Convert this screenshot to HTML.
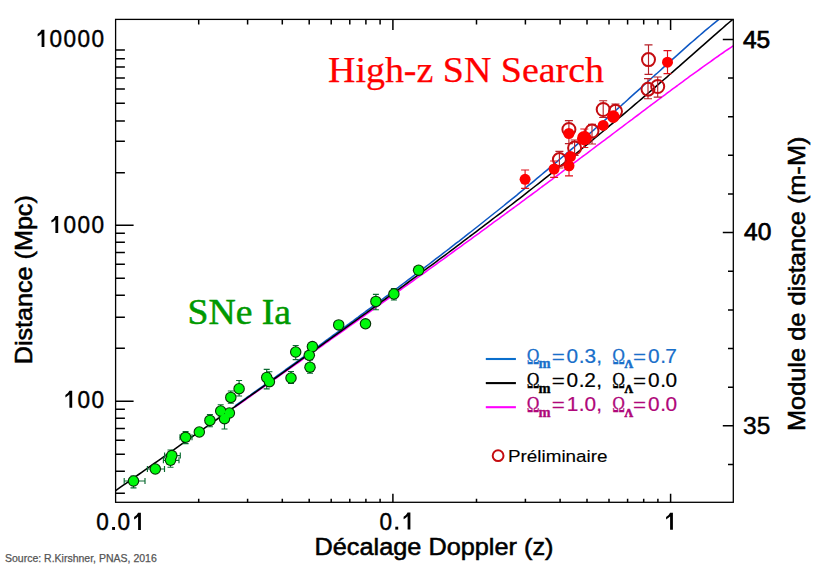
<!DOCTYPE html>
<html><head><meta charset="utf-8"><style>html,body{margin:0;padding:0;background:#fff;width:829px;height:568px;overflow:hidden}svg{display:block}</style></head>
<body><svg width="829" height="568" viewBox="0 0 829 568">
<rect width="829" height="568" fill="#fff"/>
<defs><clipPath id="c"><rect x="115.6" y="19.4" width="617.6999999999999" height="482.90000000000003"/></clipPath></defs><path d="M115.6 493.2h9.3M115.6 471.2h9.3M115.6 454.2h9.3M115.6 440.2h9.3M115.6 428.5h9.3M115.6 418.3h9.3M115.6 409.3h9.3M115.6 401.2h18M115.6 348.2h9.3M115.6 317.2h9.3M115.6 295.2h9.3M115.6 278.2h9.3M115.6 264.2h9.3M115.6 252.5h9.3M115.6 242.3h9.3M115.6 233.3h9.3M115.6 225.2h18M115.6 172.7h9.3M115.6 141.2h9.3M115.6 120.9h9.3M115.6 103.2h9.3M115.6 89.0h9.3M115.6 78.0h9.3M115.6 67.0h9.3M115.6 58.8h9.3M115.6 50.0h9.3M198.7 502.3v-3.6M198.7 19.4v5.2M247.6 502.3v-3.6M247.6 19.4v5.2M282.3 502.3v-3.6M282.3 19.4v5.2M309.2 502.3v-3.6M309.2 19.4v5.2M331.2 502.3v-3.6M331.2 19.4v5.2M349.8 502.3v-3.6M349.8 19.4v5.2M365.9 502.3v-3.6M365.9 19.4v5.2M380.1 502.3v-3.6M380.1 19.4v5.2M392.9 502.3v-8.5M392.9 19.4v10.5M476.5 502.3v-3.6M476.5 19.4v5.2M525.4 502.3v-3.6M525.4 19.4v5.2M560.1 502.3v-3.6M560.1 19.4v5.2M587.0 502.3v-3.6M587.0 19.4v5.2M609.0 502.3v-3.6M609.0 19.4v5.2M627.6 502.3v-3.6M627.6 19.4v5.2M643.7 502.3v-3.6M643.7 19.4v5.2M657.9 502.3v-3.6M657.9 19.4v5.2M670.6 502.3v-8.5M670.6 19.4v10.5M733.3 464.4h-5.3M733.3 425.8h-10.5M733.3 387.2h-5.3M733.3 348.5h-5.3M733.3 309.9h-5.3M733.3 271.2h-5.3M733.3 232.6h-10.5M733.3 194.0h-5.3M733.3 155.3h-5.3M733.3 116.7h-5.3M733.3 78.0h-5.3M733.3 39.4h-10.5" stroke="#000" stroke-width="1.5" fill="none"/><g clip-path="url(#c)" fill="none" stroke-width="1.55" stroke-linejoin="round"><polyline points="235.0,407.1 237.5,405.3 240.0,403.5 242.5,401.8 245.1,400.0 247.6,398.2 250.1,396.5 252.6,394.7 255.1,392.9 257.6,391.2 260.1,389.4 262.7,387.6 265.2,385.8 267.7,384.1 270.2,382.3 272.7,380.5 275.2,378.8 277.7,377.0 280.3,375.2 282.8,373.4 285.3,371.7 287.8,369.9 290.3,368.1 292.8,366.3 295.3,364.6 297.9,362.8 300.4,361.0 302.9,359.2 305.4,357.5 307.9,355.7 310.4,353.9 312.9,352.1 315.5,350.4 318.0,348.6 320.5,346.8 323.0,345.0 325.5,343.2 328.0,341.5 330.5,339.7 333.0,337.9 335.6,336.1 338.1,334.3 340.6,332.5 343.1,330.8 345.6,329.0 348.1,327.2 350.6,325.4 353.2,323.6 355.7,321.8 358.2,320.0 360.7,318.3 363.2,316.5 365.7,314.7 368.2,312.9 370.8,311.1 373.3,309.3 375.8,307.5 378.3,305.7 380.8,303.9 383.3,302.1 385.8,300.3 388.4,298.5 390.9,296.7 393.4,294.9 395.9,293.1 398.4,291.3 400.9,289.5 403.4,287.7 406.0,285.9 408.5,284.1 411.0,282.3 413.5,280.5 416.0,278.7 418.5,276.9 421.0,275.1 423.6,273.3 426.1,271.5 428.6,269.7 431.1,267.9 433.6,266.1 436.1,264.3 438.6,262.4 441.2,260.6 443.7,258.8 446.2,257.0 448.7,255.2 451.2,253.3 453.7,251.5 456.2,249.7 458.8,247.9 461.3,246.1 463.8,244.2 466.3,242.4 468.8,240.6 471.3,238.8 473.8,236.9 476.4,235.1 478.9,233.3 481.4,231.4 483.9,229.6 486.4,227.8 488.9,225.9 491.4,224.1 493.9,222.2 496.5,220.4 499.0,218.6 501.5,216.7 504.0,214.9 506.5,213.0 509.0,211.2 511.5,209.3 514.1,207.5 516.6,205.6 519.1,203.8 521.6,201.9 524.1,200.1 526.6,198.2 529.1,196.4 531.7,194.5 534.2,192.6 536.7,190.8 539.2,188.9 541.7,187.0 544.2,185.2 546.7,183.3 549.3,181.4 551.8,179.6 554.3,177.7 556.8,175.8 559.3,174.0 561.8,172.1 564.3,170.2 566.9,168.3 569.4,166.4 571.9,164.6 574.4,162.7 576.9,160.8 579.4,158.9 581.9,157.0 584.5,155.2 587.0,153.3 589.5,151.4 592.0,149.5 594.5,147.6 597.0,145.7 599.5,143.8 602.1,141.9 604.6,140.1 607.1,138.2 609.6,136.3 612.1,134.4 614.6,132.5 617.1,130.6 619.7,128.7 622.2,126.8 624.7,124.9 627.2,123.0 629.7,121.1 632.2,119.3 634.7,117.4 637.3,115.5 639.8,113.6 642.3,111.7 644.8,109.8 647.3,107.9 649.8,106.0 652.3,104.2 654.8,102.3 657.4,100.4 659.9,98.5 662.4,96.7 664.9,94.8 667.4,92.9 669.9,91.1 672.4,89.2 675.0,87.3 677.5,85.5 680.0,83.6 682.5,81.8 685.0,79.9 687.5,78.1 690.0,76.2 692.6,74.4 695.1,72.6 697.6,70.8 700.1,69.0 702.6,67.2 705.1,65.4 707.6,63.6 710.2,61.8 712.7,60.0 715.2,58.2 717.7,56.5 720.2,54.7 722.7,53.0 725.2,51.2 727.8,49.5 730.3,47.8 732.8,46.1 735.3,44.4" stroke="#ff00ff"/><polyline points="235.0,406.0 237.5,404.2 240.0,402.4 242.5,400.6 245.1,398.8 247.6,397.0 250.1,395.3 252.6,393.5 255.1,391.7 257.6,389.9 260.1,388.1 262.7,386.3 265.2,384.5 267.7,382.7 270.2,380.9 272.7,379.1 275.2,377.3 277.7,375.5 280.3,373.7 282.8,371.9 285.3,370.0 287.8,368.2 290.3,366.4 292.8,364.6 295.3,362.8 297.9,361.0 300.4,359.2 302.9,357.4 305.4,355.6 307.9,353.7 310.4,351.9 312.9,350.1 315.5,348.3 318.0,346.5 320.5,344.6 323.0,342.8 325.5,341.0 328.0,339.2 330.5,337.3 333.0,335.5 335.6,333.7 338.1,331.8 340.6,330.0 343.1,328.2 345.6,326.3 348.1,324.5 350.6,322.6 353.2,320.8 355.7,318.9 358.2,317.1 360.7,315.2 363.2,313.4 365.7,311.5 368.2,309.7 370.8,307.8 373.3,306.0 375.8,304.1 378.3,302.2 380.8,300.4 383.3,298.5 385.8,296.6 388.4,294.8 390.9,292.9 393.4,291.0 395.9,289.1 398.4,287.3 400.9,285.4 403.4,283.5 406.0,281.6 408.5,279.7 411.0,277.8 413.5,275.9 416.0,274.0 418.5,272.1 421.0,270.2 423.6,268.3 426.1,266.4 428.6,264.5 431.1,262.6 433.6,260.6 436.1,258.7 438.6,256.8 441.2,254.9 443.7,252.9 446.2,251.0 448.7,249.1 451.2,247.1 453.7,245.2 456.2,243.2 458.8,241.3 461.3,239.3 463.8,237.4 466.3,235.4 468.8,233.4 471.3,231.5 473.8,229.5 476.4,227.5 478.9,225.5 481.4,223.5 483.9,221.5 486.4,219.5 488.9,217.5 491.4,215.5 493.9,213.5 496.5,211.5 499.0,209.5 501.5,207.5 504.0,205.5 506.5,203.4 509.0,201.4 511.5,199.4 514.1,197.3 516.6,195.3 519.1,193.2 521.6,191.1 524.1,189.1 526.6,187.0 529.1,184.9 531.7,182.9 534.2,180.8 536.7,178.7 539.2,176.6 541.7,174.5 544.2,172.4 546.7,170.3 549.3,168.2 551.8,166.1 554.3,163.9 556.8,161.8 559.3,159.7 561.8,157.5 564.3,155.4 566.9,153.2 569.4,151.1 571.9,148.9 574.4,146.8 576.9,144.6 579.4,142.4 581.9,140.2 584.5,138.1 587.0,135.9 589.5,133.7 592.0,131.5 594.5,129.3 597.0,127.0 599.5,124.8 602.1,122.6 604.6,120.4 607.1,118.2 609.6,115.9 612.1,113.7 614.6,111.5 617.1,109.2 619.7,107.0 622.2,104.7 624.7,102.5 627.2,100.2 629.7,97.9 632.2,95.7 634.7,93.4 637.3,91.1 639.8,88.9 642.3,86.6 644.8,84.3 647.3,82.0 649.8,79.8 652.3,77.5 654.8,75.2 657.4,73.0 659.9,70.7 662.4,68.4 664.9,66.1 667.4,63.9 669.9,61.6 672.4,59.4 675.0,57.1 677.5,54.9 680.0,52.6 682.5,50.4 685.0,48.1 687.5,45.9 690.0,43.7 692.6,41.5 695.1,39.3 697.6,37.1 700.1,35.0 702.6,32.8 705.1,30.7 707.6,28.6 710.2,26.5 712.7,24.4 715.2,22.3 717.7,20.3 720.2,18.3 722.7,16.3 725.2,14.3 727.8,12.4 730.3,10.5 732.8,8.6 735.3,6.8" stroke="#0e58c4"/><polyline points="113.6,492.0 116.7,489.8 119.8,487.6 123.0,485.4 126.1,483.3 129.2,481.1 132.3,478.9 135.5,476.7 138.6,474.5 141.7,472.3 144.8,470.1 148.0,467.9 151.1,465.7 154.2,463.5 157.3,461.3 160.5,459.1 163.6,456.9 166.7,454.7 169.8,452.5 173.0,450.3 176.1,448.1 179.2,445.9 182.3,443.7 185.5,441.5 188.6,439.3 191.7,437.1 194.8,434.9 198.0,432.7 201.1,430.5 204.2,428.3 207.3,426.1 210.4,423.9 213.6,421.7 216.7,419.5 219.8,417.3 222.9,415.1 226.1,412.9 229.2,410.7 232.3,408.5 235.4,406.3 238.6,404.1 241.7,401.9 244.8,399.7 247.9,397.4 251.1,395.2 254.2,393.0 257.3,390.8 260.4,388.6 263.6,386.4 266.7,384.2 269.8,381.9 272.9,379.7 276.1,377.5 279.2,375.3 282.3,373.1 285.4,370.8 288.6,368.6 291.7,366.4 294.8,364.2 297.9,361.9 301.0,359.7 304.2,357.5 307.3,355.2 310.4,353.0 313.5,350.8 316.7,348.5 319.8,346.3 322.9,344.1 326.0,341.8 329.2,339.6 332.3,337.4 335.4,335.1 338.5,332.9 341.7,330.6 344.8,328.4 347.9,326.1 351.0,323.9 354.2,321.6 357.3,319.4 360.4,317.1 363.5,314.8 366.7,312.6 369.8,310.3 372.9,308.1 376.0,305.8 379.2,303.5 382.3,301.2 385.4,299.0 388.5,296.7 391.6,294.4 394.8,292.1 397.9,289.9 401.0,287.6 404.1,285.3 407.3,283.0 410.4,280.7 413.5,278.4 416.6,276.1 419.8,273.8 422.9,271.5 426.0,269.2 429.1,266.9 432.3,264.6 435.4,262.3 438.5,259.9 441.6,257.6 444.8,255.3 447.9,253.0 451.0,250.6 454.1,248.3 457.3,245.9 460.4,243.6 463.5,241.2 466.6,238.9 469.7,236.5 472.9,234.2 476.0,231.8 479.1,229.4 482.2,227.1 485.4,224.7 488.5,222.3 491.6,219.9 494.7,217.5 497.9,215.1 501.0,212.8 504.1,210.3 507.2,207.9 510.4,205.5 513.5,203.1 516.6,200.7 519.7,198.3 522.9,195.8 526.0,193.4 529.1,190.9 532.2,188.5 535.4,186.0 538.5,183.6 541.6,181.1 544.7,178.6 547.9,176.1 551.0,173.7 554.1,171.2 557.2,168.7 560.3,166.2 563.5,163.7 566.6,161.1 569.7,158.6 572.8,156.1 576.0,153.6 579.1,151.0 582.2,148.5 585.3,145.9 588.5,143.4 591.6,140.8 594.7,138.2 597.8,135.6 601.0,133.0 604.1,130.5 607.2,127.9 610.3,125.2 613.5,122.6 616.6,120.0 619.7,117.4 622.8,114.8 626.0,112.1 629.1,109.5 632.2,106.8 635.3,104.2 638.5,101.5 641.6,98.8 644.7,96.1 647.8,93.5 650.9,90.8 654.1,88.1 657.2,85.4 660.3,82.7 663.4,80.0 666.6,77.3 669.7,74.5 672.8,71.8 675.9,69.1 679.1,66.4 682.2,63.6 685.3,60.9 688.4,58.1 691.6,55.4 694.7,52.7 697.8,49.9 700.9,47.2 704.1,44.4 707.2,41.7 710.3,38.9 713.4,36.2 716.6,33.4 719.7,30.7 722.8,28.0 725.9,25.2 729.1,22.5 732.2,19.8 735.3,17.1" stroke="#000"/></g><path d="M124.2 481.0H145.0M124.2 478.0V484.0M145.0 478.0V484.0" stroke="#0a6b30" stroke-width="1.15" fill="none"/><path d="M133.5 476.0V487.8M130.5 476.0H136.5M130.5 487.8H136.5" stroke="#0a6b30" stroke-width="1.15" fill="none"/><path d="M147.4 469.0H164.5M147.4 466.0V472.0M164.5 466.0V472.0" stroke="#0a6b30" stroke-width="1.15" fill="none"/><path d="M164.6 455.6H180.3M164.6 452.6V458.6M180.3 452.6V458.6" stroke="#0a6b30" stroke-width="1.15" fill="none"/><path d="M163.4 460.3H179.0M163.4 457.3V463.3M179.0 457.3V463.3" stroke="#0a6b30" stroke-width="1.15" fill="none"/><path d="M170.5 450.0V467.2M167.5 450.0H173.5M167.5 467.2H173.5" stroke="#0a6b30" stroke-width="1.15" fill="none"/><path d="M180.0 437.3H192.0M180.0 434.3V440.3M192.0 434.3V440.3" stroke="#0a6b30" stroke-width="1.15" fill="none"/><path d="M185.6 431.5V443.6M182.6 431.5H188.6M182.6 443.6H188.6" stroke="#0a6b30" stroke-width="1.15" fill="none"/><path d="M209.9 414.6V426.7M206.9 414.6H212.9M206.9 426.7H212.9" stroke="#0a6b30" stroke-width="1.15" fill="none"/><path d="M220.7 404.7V417.0M217.7 404.7H223.7M217.7 417.0H223.7" stroke="#0a6b30" stroke-width="1.15" fill="none"/><path d="M225.0 413.0H232.6M225.0 410.0V416.0M232.6 410.0V416.0" stroke="#0a6b30" stroke-width="1.15" fill="none"/><path d="M224.5 410.0V429.0M221.5 410.0H227.5M221.5 429.0H227.5" stroke="#0a6b30" stroke-width="1.15" fill="none"/><path d="M230.8 391.0V403.2M227.8 391.0H233.8M227.8 403.2H233.8" stroke="#0a6b30" stroke-width="1.15" fill="none"/><path d="M239.1 380.5V396.0M236.1 380.5H242.1M236.1 396.0H242.1" stroke="#0a6b30" stroke-width="1.15" fill="none"/><path d="M266.7 369.4V388.8M263.7 369.4H269.7M263.7 388.8H269.7" stroke="#0a6b30" stroke-width="1.15" fill="none"/><path d="M269.4 371.7V386.0M266.4 371.7H272.4M266.4 386.0H272.4" stroke="#0a6b30" stroke-width="1.15" fill="none"/><path d="M291.0 371.5V383.5M288.0 371.5H294.0M288.0 383.5H294.0" stroke="#0a6b30" stroke-width="1.15" fill="none"/><path d="M295.7 345.5V359.6M292.7 345.5H298.7M292.7 359.6H298.7" stroke="#0a6b30" stroke-width="1.15" fill="none"/><path d="M310.0 360.0V373.2M307.0 360.0H313.0M307.0 373.2H313.0" stroke="#0a6b30" stroke-width="1.15" fill="none"/><path d="M375.9 294.3V309.7M372.9 294.3H378.9M372.9 309.7H378.9" stroke="#0a6b30" stroke-width="1.15" fill="none"/><path d="M393.9 288.5V300.0M390.9 288.5H396.9M390.9 300.0H396.9" stroke="#0a6b30" stroke-width="1.15" fill="none"/><circle cx="133.5" cy="481" r="5.75" fill="#053005"/><circle cx="155.3" cy="469" r="5.75" fill="#053005"/><circle cx="171.8" cy="455.6" r="5.75" fill="#053005"/><circle cx="170.5" cy="460.3" r="5.75" fill="#053005"/><circle cx="185.6" cy="437.3" r="5.75" fill="#053005"/><circle cx="199.3" cy="432" r="5.75" fill="#053005"/><circle cx="209.9" cy="420.4" r="5.75" fill="#053005"/><circle cx="220.7" cy="411" r="5.75" fill="#053005"/><circle cx="229.4" cy="413" r="5.75" fill="#053005"/><circle cx="224.5" cy="418.7" r="5.75" fill="#053005"/><circle cx="230.8" cy="397.4" r="5.75" fill="#053005"/><circle cx="239.1" cy="388.7" r="5.75" fill="#053005"/><circle cx="266.7" cy="377.5" r="5.75" fill="#053005"/><circle cx="269.4" cy="381.7" r="5.75" fill="#053005"/><circle cx="291" cy="378" r="5.75" fill="#053005"/><circle cx="295.7" cy="352" r="5.75" fill="#053005"/><circle cx="312.4" cy="346.6" r="5.75" fill="#053005"/><circle cx="309.3" cy="355.3" r="5.75" fill="#053005"/><circle cx="310" cy="367.2" r="5.75" fill="#053005"/><circle cx="338.7" cy="324.9" r="5.75" fill="#053005"/><circle cx="365.5" cy="323.8" r="5.75" fill="#053005"/><circle cx="375.9" cy="301.4" r="5.75" fill="#053005"/><circle cx="393.9" cy="294" r="5.75" fill="#053005"/><circle cx="418.6" cy="270.2" r="5.75" fill="#053005"/><circle cx="133.5" cy="481" r="4.65" fill="#00f80c"/><circle cx="155.3" cy="469" r="4.65" fill="#00f80c"/><circle cx="171.8" cy="455.6" r="4.65" fill="#00f80c"/><circle cx="170.5" cy="460.3" r="4.65" fill="#00f80c"/><circle cx="185.6" cy="437.3" r="4.65" fill="#00f80c"/><circle cx="199.3" cy="432" r="4.65" fill="#00f80c"/><circle cx="209.9" cy="420.4" r="4.65" fill="#00f80c"/><circle cx="220.7" cy="411" r="4.65" fill="#00f80c"/><circle cx="229.4" cy="413" r="4.65" fill="#00f80c"/><circle cx="224.5" cy="418.7" r="4.65" fill="#00f80c"/><circle cx="230.8" cy="397.4" r="4.65" fill="#00f80c"/><circle cx="239.1" cy="388.7" r="4.65" fill="#00f80c"/><circle cx="266.7" cy="377.5" r="4.65" fill="#00f80c"/><circle cx="269.4" cy="381.7" r="4.65" fill="#00f80c"/><circle cx="291" cy="378" r="4.65" fill="#00f80c"/><circle cx="295.7" cy="352" r="4.65" fill="#00f80c"/><circle cx="312.4" cy="346.6" r="4.65" fill="#00f80c"/><circle cx="309.3" cy="355.3" r="4.65" fill="#00f80c"/><circle cx="310" cy="367.2" r="4.65" fill="#00f80c"/><circle cx="338.7" cy="324.9" r="4.65" fill="#00f80c"/><circle cx="365.5" cy="323.8" r="4.65" fill="#00f80c"/><circle cx="375.9" cy="301.4" r="4.65" fill="#00f80c"/><circle cx="393.9" cy="294" r="4.65" fill="#00f80c"/><circle cx="418.6" cy="270.2" r="4.65" fill="#00f80c"/><path d="M559.4 151.3V168.0M555.4 151.3H563.4M555.4 168.0H563.4" stroke="#b82028" stroke-width="1.15" fill="none"/><path d="M574.6 140.0V155.5M570.6 140.0H578.6M570.6 155.5H578.6" stroke="#b82028" stroke-width="1.15" fill="none"/><path d="M568.9 120.6V143.6M564.9 120.6H572.9M564.9 143.6H572.9" stroke="#b82028" stroke-width="1.15" fill="none"/><path d="M592.0 124.3V144.0M588.0 124.3H596.0M588.0 144.0H596.0" stroke="#b82028" stroke-width="1.15" fill="none"/><path d="M603.2 100.7V117.5M599.2 100.7H607.2M599.2 117.5H607.2" stroke="#b82028" stroke-width="1.15" fill="none"/><path d="M615.5 104.0V118.0M611.5 104.0H619.5M611.5 118.0H619.5" stroke="#b82028" stroke-width="1.15" fill="none"/><path d="M648.5 44.8V74.4M644.5 44.8H652.5M644.5 74.4H652.5" stroke="#b82028" stroke-width="1.15" fill="none"/><path d="M648.0 78.6V98.7M644.0 78.6H652.0M644.0 98.7H652.0" stroke="#b82028" stroke-width="1.15" fill="none"/><path d="M657.7 77.0V97.1M653.7 77.0H661.7M653.7 97.1H661.7" stroke="#b82028" stroke-width="1.15" fill="none"/><circle cx="559.4" cy="159.6" r="6.5" fill="none" stroke="#c40c10" stroke-width="2"/><circle cx="574.6" cy="148" r="6.5" fill="none" stroke="#c40c10" stroke-width="2"/><circle cx="568.9" cy="129.5" r="6.5" fill="none" stroke="#c40c10" stroke-width="2"/><circle cx="592" cy="131" r="6.5" fill="none" stroke="#c40c10" stroke-width="2"/><circle cx="603.2" cy="109.5" r="6.5" fill="none" stroke="#c40c10" stroke-width="2"/><circle cx="615.5" cy="111.3" r="6.5" fill="none" stroke="#c40c10" stroke-width="2"/><circle cx="648.5" cy="59.6" r="6.5" fill="none" stroke="#c40c10" stroke-width="2"/><circle cx="648" cy="89.2" r="6.5" fill="none" stroke="#c40c10" stroke-width="2"/><circle cx="657.7" cy="86.5" r="6.5" fill="none" stroke="#c40c10" stroke-width="2"/><path d="M525.1 170.0V188.3M521.1 170.0H529.1M521.1 188.3H529.1" stroke="#e0101a" stroke-width="1.15" fill="none"/><path d="M554.1 161.0V177.3M550.1 161.0H558.1M550.1 177.3H558.1" stroke="#e0101a" stroke-width="1.15" fill="none"/><path d="M569.0 156.0V175.9M565.0 156.0H573.0M565.0 175.9H573.0" stroke="#e0101a" stroke-width="1.15" fill="none"/><path d="M584.3 129.0V147.5M580.3 129.0H588.3M580.3 147.5H588.3" stroke="#e0101a" stroke-width="1.15" fill="none"/><path d="M667.5 50.6V73.6M663.5 50.6H671.5M663.5 73.6H671.5" stroke="#e0101a" stroke-width="1.15" fill="none"/><circle cx="525.1" cy="179.3" r="5.5" fill="#ff0000"/><circle cx="554.1" cy="169" r="5.5" fill="#ff0000"/><circle cx="569" cy="165.8" r="5.5" fill="#ff0000"/><circle cx="570.5" cy="156.5" r="5.5" fill="#ff0000"/><circle cx="568.9" cy="133.5" r="5.5" fill="#ff0000"/><circle cx="584.3" cy="138.2" r="7.3" fill="#ff0000"/><circle cx="603.2" cy="125.4" r="5.5" fill="#ff0000"/><circle cx="613.3" cy="116.6" r="6.3" fill="#ff0000"/><circle cx="667.5" cy="62.2" r="5.5" fill="#ff0000"/><rect x="115.6" y="19.4" width="617.7" height="482.9" fill="none" stroke="#000" stroke-width="1.3"/><path d="M41.60 29.80H44.40V46.90H41.60V33.60Q39.80 35.40 37.60 36.50V34.10Q40.30 32.70 41.60 29.80Z" fill="#000"/><text transform="translate(49.45,46.90) scale(0.94,1)" font-family="Liberation Sans" font-size="24" stroke="#000" stroke-width="0.45">0</text><text transform="translate(63.45,46.90) scale(0.94,1)" font-family="Liberation Sans" font-size="24" stroke="#000" stroke-width="0.45">0</text><text transform="translate(77.45,46.90) scale(0.94,1)" font-family="Liberation Sans" font-size="24" stroke="#000" stroke-width="0.45">0</text><text transform="translate(91.45,46.90) scale(0.94,1)" font-family="Liberation Sans" font-size="24" stroke="#000" stroke-width="0.45">0</text><path d="M55.40 215.90H58.20V233.00H55.40V219.70Q53.60 221.50 51.40 222.60V220.20Q54.10 218.80 55.40 215.90Z" fill="#000"/><text transform="translate(63.45,233.00) scale(0.94,1)" font-family="Liberation Sans" font-size="24" stroke="#000" stroke-width="0.45">0</text><text transform="translate(77.45,233.00) scale(0.94,1)" font-family="Liberation Sans" font-size="24" stroke="#000" stroke-width="0.45">0</text><text transform="translate(91.45,233.00) scale(0.94,1)" font-family="Liberation Sans" font-size="24" stroke="#000" stroke-width="0.45">0</text><path d="M69.40 390.70H72.20V407.80H69.40V394.50Q67.60 396.30 65.40 397.40V395.00Q68.10 393.60 69.40 390.70Z" fill="#000"/><text transform="translate(77.45,407.80) scale(0.94,1)" font-family="Liberation Sans" font-size="24" stroke="#000" stroke-width="0.45">0</text><text transform="translate(91.45,407.80) scale(0.94,1)" font-family="Liberation Sans" font-size="24" stroke="#000" stroke-width="0.45">0</text><text transform="translate(96.15,529.90) scale(0.94,1)" font-family="Liberation Sans" font-size="24" stroke="#000" stroke-width="0.45">0</text><rect x="112.10" y="527.00" width="2.9" height="2.9" fill="#000"/><text transform="translate(117.45,529.90) scale(0.94,1)" font-family="Liberation Sans" font-size="24" stroke="#000" stroke-width="0.45">0</text><path d="M138.10 512.80H140.90V529.90H138.10V516.60Q136.30 518.40 134.10 519.50V517.10Q136.80 515.70 138.10 512.80Z" fill="#000"/><text transform="translate(379.55,529.60) scale(0.94,1)" font-family="Liberation Sans" font-size="24" stroke="#000" stroke-width="0.45">0</text><rect x="395.30" y="526.70" width="2.9" height="2.9" fill="#000"/><path d="M407.60 512.50H410.40V529.60H407.60V516.30Q405.80 518.10 403.60 519.20V516.80Q406.30 515.40 407.60 512.50Z" fill="#000"/><path d="M670.10 512.70H672.90V529.80H670.10V516.50Q668.30 518.30 666.10 519.40V517.00Q668.80 515.60 670.10 512.70Z" fill="#000"/><text x="742.9" y="47.9" font-family="Liberation Sans" font-size="24.5" font-weight="normal" fill="#000" text-anchor="start" stroke="#000" stroke-width="0.75">45</text><text x="744.1" y="239.7" font-family="Liberation Sans" font-size="24.5" font-weight="normal" fill="#000" text-anchor="start" stroke="#000" stroke-width="0.75">40</text><text x="743.1" y="433.7" font-family="Liberation Sans" font-size="24.5" font-weight="normal" fill="#000" text-anchor="start" stroke="#000" stroke-width="0.45">35</text><text x="434" y="555.1" font-family="Liberation Sans" font-size="24.5" font-weight="normal" fill="#000" text-anchor="middle" stroke="#000" stroke-width="0.55" textLength="239" lengthAdjust="spacingAndGlyphs">Décalage Doppler (z)</text><text transform="translate(32.4,279.7) rotate(-90)" font-family="Liberation Sans" font-size="24.5" stroke="#000" stroke-width="0.55" textLength="169" lengthAdjust="spacingAndGlyphs" text-anchor="middle">Distance (Mpc)</text><text transform="translate(805.4,283.8) rotate(-90)" font-family="Liberation Sans" font-size="24.5" stroke="#000" stroke-width="0.55" textLength="294.5" lengthAdjust="spacingAndGlyphs" text-anchor="middle">Module de distance (m-M)</text><text x="328" y="81.9" font-family="Liberation Serif" font-size="35" font-weight="normal" fill="#ff0000" text-anchor="start" stroke="#ff0000" stroke-width="0.25" textLength="276" lengthAdjust="spacingAndGlyphs">High-z SN Search</text><text x="187.5" y="324.3" font-family="Liberation Serif" font-size="36" font-weight="normal" fill="#009900" text-anchor="start" stroke="#009900" stroke-width="0.5" textLength="103.5" lengthAdjust="spacingAndGlyphs">SNe Ia</text><text x="5" y="562.1" font-family="Liberation Sans" font-size="10.5" font-weight="normal" fill="#555555" text-anchor="start" stroke="#555555" stroke-width="0.25">Source: R.Kirshner, PNAS, 2016</text><circle cx="498.1" cy="455.7" r="5.4" fill="none" stroke="#c40c10" stroke-width="2"/><text x="508" y="461.7" font-family="Liberation Sans" font-size="17" font-weight="normal" fill="#000" text-anchor="start" stroke="#000" stroke-width="0.15" textLength="99.5" lengthAdjust="spacingAndGlyphs">Préliminaire</text><path d="M485.8 359H515.9" stroke="#0a6ecc" stroke-width="2.1"/><text transform="translate(526.8,363.6) scale(0.8,1.05)" font-family="Liberation Serif" font-size="21.5" fill="#1a6fca" stroke="#1a6fca" stroke-width="0.35">Ω</text><text transform="translate(612.3,363.6) scale(0.8,1.05)" font-family="Liberation Serif" font-size="21.5" fill="#1a6fca" stroke="#1a6fca" stroke-width="0.35">Ω</text><text x="538.6" y="368.40000000000003" font-family="Liberation Serif" font-size="14.5" font-weight="bold" fill="#1a6fca" stroke="#1a6fca" stroke-width="0.3">m</text><text x="624.6" y="368.40000000000003" font-family="Liberation Serif" font-size="12" font-weight="bold" fill="#1a6fca" stroke="#1a6fca" stroke-width="0.6">Λ</text><text transform="translate(551.85,362.80) scale(1.15,0.9)" font-family="Liberation Sans" font-size="19.5" fill="#1a6fca" stroke="#1a6fca" stroke-width="0.2">=</text><text transform="translate(566.60,362.80) scale(1.07,0.99)" font-family="Liberation Sans" font-size="19.5" fill="#1a6fca" stroke="#1a6fca" stroke-width="0.2">0</text><text transform="translate(578.63,362.80) scale(1.07,0.99)" font-family="Liberation Sans" font-size="19.5" fill="#1a6fca" stroke="#1a6fca" stroke-width="0.2">.</text><text transform="translate(584.40,362.80) scale(1.07,0.99)" font-family="Liberation Sans" font-size="19.5" fill="#1a6fca" stroke="#1a6fca" stroke-width="0.2">3</text><text transform="translate(596.33,362.80) scale(1.07,0.99)" font-family="Liberation Sans" font-size="19.5" fill="#1a6fca" stroke="#1a6fca" stroke-width="0.2">,</text><text transform="translate(633.05,362.80) scale(1.15,0.9)" font-family="Liberation Sans" font-size="19.5" fill="#1a6fca" stroke="#1a6fca" stroke-width="0.2">=</text><text transform="translate(648.10,362.80) scale(1.07,0.99)" font-family="Liberation Sans" font-size="19.5" fill="#1a6fca" stroke="#1a6fca" stroke-width="0.2">0</text><text transform="translate(660.13,362.80) scale(1.07,0.99)" font-family="Liberation Sans" font-size="19.5" fill="#1a6fca" stroke="#1a6fca" stroke-width="0.2">.</text><text transform="translate(665.13,362.80) scale(1.07,0.99)" font-family="Liberation Sans" font-size="19.5" fill="#1a6fca" stroke="#1a6fca" stroke-width="0.2">7</text><path d="M485.8 383.1H515.9" stroke="#000" stroke-width="2.1"/><text transform="translate(526.8,387.8) scale(0.8,1.05)" font-family="Liberation Serif" font-size="21.5" fill="#000" stroke="#000" stroke-width="0.35">Ω</text><text transform="translate(612.3,387.8) scale(0.8,1.05)" font-family="Liberation Serif" font-size="21.5" fill="#000" stroke="#000" stroke-width="0.35">Ω</text><text x="538.6" y="392.6" font-family="Liberation Serif" font-size="14.5" font-weight="bold" fill="#000" stroke="#000" stroke-width="0.3">m</text><text x="624.6" y="392.6" font-family="Liberation Serif" font-size="12" font-weight="bold" fill="#000" stroke="#000" stroke-width="0.6">Λ</text><text transform="translate(551.85,387.00) scale(1.15,0.9)" font-family="Liberation Sans" font-size="19.5" fill="#000" stroke="#000" stroke-width="0.2">=</text><text transform="translate(566.60,387.00) scale(1.07,0.99)" font-family="Liberation Sans" font-size="19.5" fill="#000" stroke="#000" stroke-width="0.2">0</text><text transform="translate(578.63,387.00) scale(1.07,0.99)" font-family="Liberation Sans" font-size="19.5" fill="#000" stroke="#000" stroke-width="0.2">.</text><text transform="translate(584.13,387.00) scale(1.07,0.99)" font-family="Liberation Sans" font-size="19.5" fill="#000" stroke="#000" stroke-width="0.2">2</text><text transform="translate(596.33,387.00) scale(1.07,0.99)" font-family="Liberation Sans" font-size="19.5" fill="#000" stroke="#000" stroke-width="0.2">,</text><text transform="translate(633.05,387.00) scale(1.15,0.9)" font-family="Liberation Sans" font-size="19.5" fill="#000" stroke="#000" stroke-width="0.2">=</text><text transform="translate(648.10,387.00) scale(1.07,0.99)" font-family="Liberation Sans" font-size="19.5" fill="#000" stroke="#000" stroke-width="0.2">0</text><text transform="translate(660.13,387.00) scale(1.07,0.99)" font-family="Liberation Sans" font-size="19.5" fill="#000" stroke="#000" stroke-width="0.2">.</text><text transform="translate(665.40,387.00) scale(1.07,0.99)" font-family="Liberation Sans" font-size="19.5" fill="#000" stroke="#000" stroke-width="0.2">0</text><path d="M485.8 407.2H515.9" stroke="#ff00ff" stroke-width="2.1"/><text transform="translate(526.8,412.0) scale(0.8,1.05)" font-family="Liberation Serif" font-size="21.5" fill="#b0087a" stroke="#b0087a" stroke-width="0.35">Ω</text><text transform="translate(612.3,412.0) scale(0.8,1.05)" font-family="Liberation Serif" font-size="21.5" fill="#b0087a" stroke="#b0087a" stroke-width="0.35">Ω</text><text x="538.6" y="416.8" font-family="Liberation Serif" font-size="14.5" font-weight="bold" fill="#b0087a" stroke="#b0087a" stroke-width="0.3">m</text><text x="624.6" y="416.8" font-family="Liberation Serif" font-size="12" font-weight="bold" fill="#b0087a" stroke="#b0087a" stroke-width="0.6">Λ</text><text transform="translate(551.85,411.20) scale(1.15,0.9)" font-family="Liberation Sans" font-size="19.5" fill="#b0087a" stroke="#b0087a" stroke-width="0.2">=</text><text transform="translate(566.79,411.20) scale(1.07,0.99)" font-family="Liberation Sans" font-size="19.5" fill="#b0087a" stroke="#b0087a" stroke-width="0.2">1</text><text transform="translate(578.63,411.20) scale(1.07,0.99)" font-family="Liberation Sans" font-size="19.5" fill="#b0087a" stroke="#b0087a" stroke-width="0.2">.</text><text transform="translate(584.40,411.20) scale(1.07,0.99)" font-family="Liberation Sans" font-size="19.5" fill="#b0087a" stroke="#b0087a" stroke-width="0.2">0</text><text transform="translate(596.33,411.20) scale(1.07,0.99)" font-family="Liberation Sans" font-size="19.5" fill="#b0087a" stroke="#b0087a" stroke-width="0.2">,</text><text transform="translate(633.05,411.20) scale(1.15,0.9)" font-family="Liberation Sans" font-size="19.5" fill="#b0087a" stroke="#b0087a" stroke-width="0.2">=</text><text transform="translate(648.10,411.20) scale(1.07,0.99)" font-family="Liberation Sans" font-size="19.5" fill="#b0087a" stroke="#b0087a" stroke-width="0.2">0</text><text transform="translate(660.13,411.20) scale(1.07,0.99)" font-family="Liberation Sans" font-size="19.5" fill="#b0087a" stroke="#b0087a" stroke-width="0.2">.</text><text transform="translate(665.40,411.20) scale(1.07,0.99)" font-family="Liberation Sans" font-size="19.5" fill="#b0087a" stroke="#b0087a" stroke-width="0.2">0</text>
</svg></body></html>
